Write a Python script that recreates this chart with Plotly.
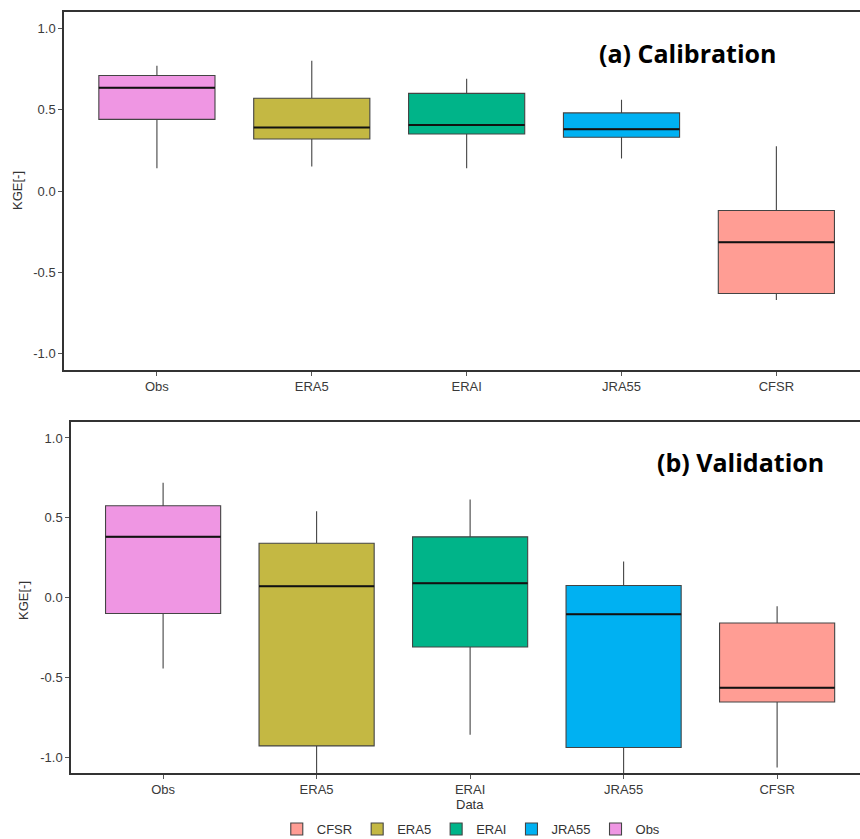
import plotly.graph_objects as go

categories = ["Obs", "ERA5", "ERAI", "JRA55", "CFSR"]
colors = {"Obs": "#EF96E3", "ERA5": "#C4B843", "ERAI": "#00B489",
          "JRA55": "#00B1F2", "CFSR": "#FF9D94"}
legend_order = ["CFSR", "ERA5", "ERAI", "JRA55", "Obs"]

# (a) Calibration
cal_low = [0.14, 0.15, 0.14, 0.20, -0.67]
cal_q1 = [0.44, 0.32, 0.35, 0.33, -0.63]
cal_med = [0.635, 0.39, 0.405, 0.38, -0.315]
cal_q3 = [0.71, 0.57, 0.60, 0.48, -0.12]
cal_high = [0.77, 0.80, 0.69, 0.56, 0.275]

# (b) Validation
val_low = [-0.445, -1.25, -0.86, -1.25, -1.065]
val_q1 = [-0.10, -0.93, -0.31, -0.94, -0.655]
val_med = [0.38, 0.07, 0.09, -0.105, -0.565]
val_q3 = [0.575, 0.34, 0.38, 0.075, -0.16]
val_high = [0.72, 0.54, 0.615, 0.225, -0.055]

fig = go.Figure()

def add_panel(low, q1, med, q3, high, xa, ya, showlegend):
    for i, c in enumerate(categories):
        fig.add_trace(go.Box(
            x=[c], lowerfence=[low[i]], q1=[q1[i]], median=[med[i]],
            q3=[q3[i]], upperfence=[high[i]],
            name=c, fillcolor=colors[c],
            line=dict(color="#444444", width=1.1),
            whiskerwidth=0, width=0.75,
            xaxis=xa, yaxis=ya, showlegend=showlegend,
            legendrank=legend_order.index(c) + 1,
            boxpoints=False, hoverinfo="skip",
        ))
        # emphasised median line (degenerate box at the median)
        fig.add_trace(go.Box(
            x=[c], lowerfence=[med[i]], q1=[med[i]], median=[med[i]],
            q3=[med[i]], upperfence=[med[i]],
            name=c, fillcolor="rgba(0,0,0,0)",
            line=dict(color="#111111", width=2),
            whiskerwidth=0, width=0.75,
            xaxis=xa, yaxis=ya, showlegend=False,
            boxpoints=False, hoverinfo="skip",
        ))

add_panel(cal_low, cal_q1, cal_med, cal_q3, cal_high, "x", "y", False)
add_panel(val_low, val_q1, val_med, val_q3, val_high, "x2", "y2", True)

H, W = 839, 860
tickfont = dict(family="Liberation Sans, Arial", size=13, color="#3a3a3a")
xcommon = dict(type="category", categoryorder="array", categoryarray=categories,
               range=[-0.6, 4.54], showline=True, linecolor="#333333", linewidth=1.5,
               mirror=True, ticks="outside", ticklen=4, tickcolor="#555555",
               tickfont=tickfont, showgrid=False, zeroline=False)
ycommon = dict(range=[-1.1, 1.1], tickvals=[-1.0, -0.5, 0.0, 0.5, 1.0],
               ticktext=["-1.0", "-0.5", "0.0", "0.5", "1.0"],
               showline=True, linecolor="#333333", linewidth=1.5, mirror=False,
               ticks="outside", ticklen=4, tickcolor="#555555", tickfont=tickfont,
               showgrid=False, zeroline=False)

fig.update_layout(
    width=W, height=H,
    margin=dict(l=0, r=0, t=0, b=0, autoexpand=False),
    paper_bgcolor="white", plot_bgcolor="white",
    boxmode="overlay",
    xaxis=dict(domain=[64 / W, 1], anchor="y", **xcommon),
    yaxis=dict(domain=[1 - 370 / H, 1 - 12 / H], anchor="x", **ycommon),
    xaxis2=dict(domain=[71 / W, 1], anchor="y2", **xcommon),
    yaxis2=dict(domain=[1 - 773 / H, 1 - 422 / H], anchor="x2", **ycommon),
    legend=dict(orientation="h", x=0.548, xanchor="center", y=1 - 829 / H,
                yanchor="middle", font=dict(family="Liberation Sans, Arial", size=13,
                                            color="#333333"),
                itemwidth=30, tracegroupgap=0),
    showlegend=True,
)

ann_font = dict(family="Liberation Sans, Arial", size=13, color="#333333")
fig.add_annotation(text="KGE[-]", x=18 / W, y=1 - 191 / H, xref="paper", yref="paper",
                   textangle=-90, showarrow=False, font=ann_font,
                   xanchor="center", yanchor="middle")
fig.add_annotation(text="KGE[-]", x=23 / W, y=1 - 601 / H, xref="paper", yref="paper",
                   textangle=-90, showarrow=False, font=ann_font,
                   xanchor="center", yanchor="middle")
fig.add_annotation(text="Data", x=470 / W, y=1 - 804 / H, xref="paper", yref="paper",
                   showarrow=False, font=ann_font, xanchor="center", yanchor="middle")
title_font = dict(family="Open Sans", size=25, color="black", weight="bold")
fig.add_annotation(text="<b>(a) Calibration</b>", x=688 / W, y=1 - 53 / H,
                   xref="paper", yref="paper", showarrow=False, font=title_font,
                   xanchor="center", yanchor="middle")
fig.add_annotation(text="<b>(b) Validation</b>", x=740 / W, y=1 - 462 / H,
                   xref="paper", yref="paper", showarrow=False, font=title_font,
                   xanchor="center", yanchor="middle")

fig.write_html("out.html")
